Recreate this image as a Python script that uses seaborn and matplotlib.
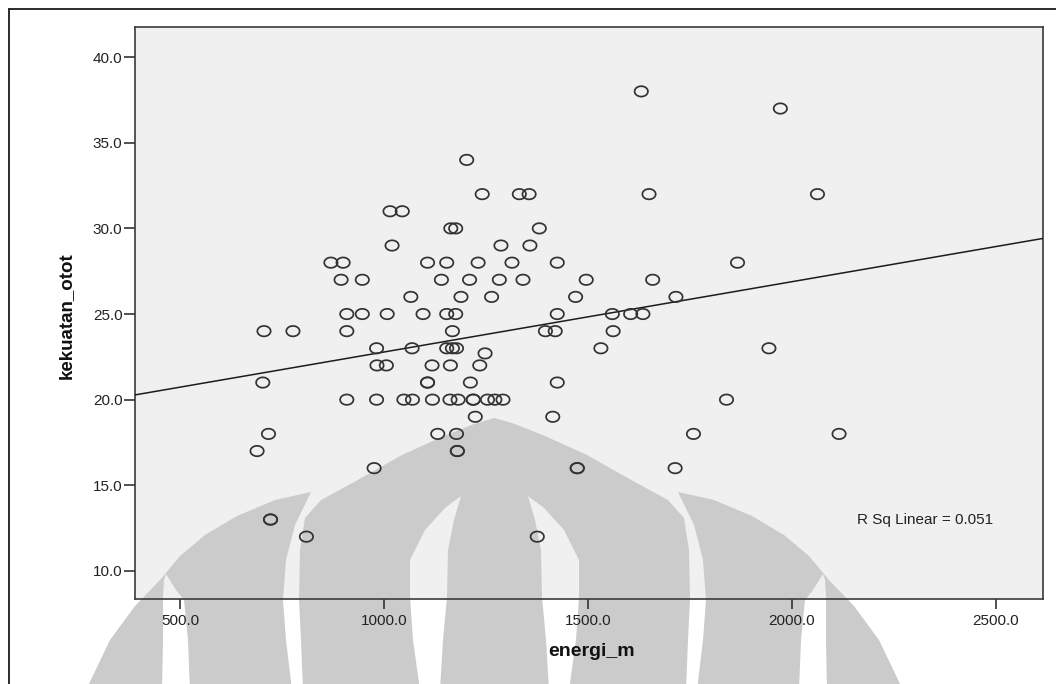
import numpy as np
import pandas as pd
import matplotlib
matplotlib.use("Agg")
import matplotlib.pyplot as plt
from matplotlib.path import Path
from matplotlib.patches import PathPatch
from matplotlib.lines import Line2D
import seaborn as sns

# ---- data -------------------------------------------------------------
energi_m = [
    1631, 1972, 1203,
    1241, 1332, 1356, 1650, 2063,
    1015, 1045,
    1164, 1176, 1381,
    1020, 1287, 1358,
    870, 900, 1107, 1154, 1231, 1314, 1425, 1867,
    895, 947, 1141, 1210, 1283, 1341, 1496, 1659,
    1066, 1189, 1264, 1470, 1716,
    909, 947, 1008, 1096, 1154, 1176, 1425, 1560, 1605, 1635,
    706, 777, 909, 1168, 1396, 1420, 1562,
    982, 1069, 1154, 1168, 1178, 1532, 1944,
    1248,
    983, 1006, 1118, 1163, 1235,
    703, 1107, 1107, 1212, 1425,
    909, 982, 1049, 1070, 1119, 1162, 1182, 1219, 1219, 1254, 1272, 1292, 1840,
    1224, 1414,
    717, 1132, 1178, 1759, 2116,
    689, 1180, 1180,
    976, 1474, 1474, 1714,
    722, 722,
    810, 1376,
]
kekuatan_otot = [
    38, 37, 34,
    32, 32, 32, 32, 32,
    31, 31,
    30, 30, 30,
    29, 29, 29,
    28, 28, 28, 28, 28, 28, 28, 28,
    27, 27, 27, 27, 27, 27, 27, 27,
    26, 26, 26, 26, 26,
    25, 25, 25, 25, 25, 25, 25, 25, 25, 25,
    24, 24, 24, 24, 24, 24, 24,
    23, 23, 23, 23, 23, 23, 23,
    22.7,
    22, 22, 22, 22, 22,
    21, 21, 21, 21, 21,
    20, 20, 20, 20, 20, 20, 20, 20, 20, 20, 20, 20, 20,
    19, 19,
    18, 18, 18, 18, 18,
    17, 17, 17,
    16, 16, 16, 16,
    13, 13,
    12, 12,
]
x_ticks = [500, 1000, 1500, 2000, 2500]
y_ticks = [10, 15, 20, 25, 30, 35, 40]
r_sq_label = "R Sq Linear = 0.051"

df = pd.DataFrame({"energi_m": energi_m, "kekuatan_otot": kekuatan_otot})

# ---- style ------------------------------------------------------------
sns.set_theme(style="white")
plt.rcParams["font.family"] = ["Liberation Sans", "DejaVu Sans"]

W, H = 1056, 684
fig = plt.figure(figsize=(W / 100, H / 100), dpi=100)
fig.patch.set_facecolor("white")


def fx(x):
    return x / W


def fy(y):
    return 1 - y / H


ax = fig.add_axes([fx(135), fy(599), (1043 - 135) / W, (599 - 27) / H])
ax.set_facecolor("#f0f0f0")
ax.set_axisbelow(True)
ax.set_xlim(389.7, 2616)
ax.set_ylim(8.36, 41.76)

# ---- background emblem (page watermark) --------------------------------
GRAY = "#cbcbcb"
CX = 494.5


def mirror(pts):
    return [(2 * CX - x, y) for x, y in pts]


def ring_area(pts):
    a = np.asarray(pts, float)
    x, y = a[:, 0], a[:, 1]
    return 0.5 * np.sum(x * np.roll(y, -1) - np.roll(x, -1) * y)


def add_shape(outer, holes=()):
    verts, codes = [], []
    rings = [(outer, 1)] + [(h, -1) for h in holes]
    for pts, sign in rings:
        p = [(fx(x), fy(y)) for x, y in pts]
        if np.sign(ring_area(p)) != sign:
            p = p[::-1]
        verts += p + [p[0]]
        codes += [Path.MOVETO] + [Path.LINETO] * (len(p) - 1) + [Path.CLOSEPOLY]
    patch = PathPatch(Path(verts, codes), facecolor=GRAY, edgecolor="none",
                      transform=fig.transFigure, clip_on=False, zorder=0.2)
    ax.add_patch(patch)


dome_right = [(494.5, 418), (515, 424), (545, 436), (587, 455), (633, 481),
              (668, 500), (684, 518), (689, 550), (690, 600), (688, 640),
              (686, 690)]
dome = dome_right + mirror(dome_right)[::-1][:-1]
sliver_left = [(461, 496), (454, 520), (448, 550), (447, 597), (443, 640),
               (440, 690), (420, 690), (413, 640), (410, 597), (410, 560),
               (425, 530), (445, 508)]
add_shape(dome, [sliver_left, mirror(sliver_left)])

flame_left = [(311, 492), (275, 500), (237, 516), (205, 535), (180, 556),
              (160, 580), (135, 606), (110, 640), (86, 690), (292, 690),
              (286, 640), (283, 600), (286, 560), (295, 525)]
flame_gap = [(166, 574), (176, 590), (184, 600), (188, 640), (190, 690),
             (162, 690), (163, 640), (163, 597), (164, 580)]
add_shape(flame_left, [flame_gap])
add_shape(mirror(flame_left), [mirror(flame_gap)])

# ---- points and fitted line --------------------------------------------
t = np.linspace(0, 2 * np.pi, 49)
ellipse = Path(np.column_stack([np.cos(t), 0.78 * np.sin(t)]), closed=True)

sns.scatterplot(data=df, x="energi_m", y="kekuatan_otot", ax=ax,
                marker=ellipse, s=92, facecolor="none",
                edgecolor="#333333", linewidth=1.25, zorder=3)
sns.regplot(data=df, x="energi_m", y="kekuatan_otot", ax=ax, scatter=False,
            ci=None, truncate=False,
            line_kws=dict(color="#1c1c1c", linewidth=1.1, zorder=2.8))
ax.set_xlim(389.7, 2616)
ax.set_ylim(8.36, 41.76)

# ---- axes -----------------------------------------------------------------
for sp in ax.spines.values():
    sp.set_visible(True)
    sp.set_color("#3a3a3a")
    sp.set_linewidth(1.2)

ax.set_xticks(x_ticks)
ax.set_xticklabels([f"{v:.1f}" for v in x_ticks])
ax.set_yticks(y_ticks)
ax.set_yticklabels([f"{v:.1f}" for v in y_ticks])
ax.tick_params(axis="x", bottom=True, direction="out", length=7, width=1.2,
               color="#333333", labelsize=11, labelcolor="#222222", pad=4)
ax.tick_params(axis="y", left=True, direction="out", length=8, width=1.2,
               color="#333333", labelsize=11, labelcolor="#222222", pad=1)

ax.set_xlabel("energi_m", fontsize=14, fontweight="bold", color="#111111")
ax.xaxis.set_label_coords(fx(592), fy(652), transform=fig.transFigure)
ax.xaxis.label.set_va("center")
ax.set_ylabel("kekuatan_otot", fontsize=13.5, fontweight="bold", color="#111111")
ax.yaxis.set_label_coords(fx(66), fy(316), transform=fig.transFigure)
ax.yaxis.label.set_va("center")

ax.text(fx(925), fy(520), r_sq_label, transform=fig.transFigure,
        ha="center", va="center", fontsize=11, color="#222222", zorder=4)

# ---- outer frame ----------------------------------------------------------
fig.add_artist(Line2D([fx(9), fx(9)], [0, fy(9)], transform=fig.transFigure,
                      color="#1a1a1a", linewidth=1.3))
fig.add_artist(Line2D([fx(9), 1], [fy(9), fy(9)], transform=fig.transFigure,
                      color="#1a1a1a", linewidth=1.3))

fig.savefig("out.png", dpi=100)
